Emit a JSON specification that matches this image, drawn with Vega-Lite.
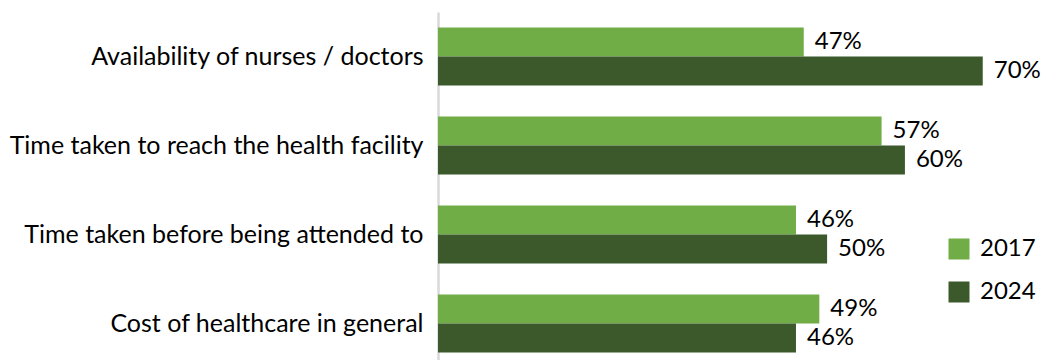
{
  "$schema": "https://vega.github.io/schema/vega-lite/v6.json",
  "autosize": {"type": "none"},
  "padding": {"left": 438, "top": 12, "right": 0, "bottom": 0},
  "width": 607,
  "height": 348,
  "background": "white",
  "config": {"view": {"stroke": null}, "font": "Lato"},
  "data": {"values": [
    {"category": "Availability of nurses / doctors", "year": "2017", "value": 0.47},
    {"category": "Availability of nurses / doctors", "year": "2024", "value": 0.70},
    {"category": "Time taken to reach the health facility", "year": "2017", "value": 0.57},
    {"category": "Time taken to reach the health facility", "year": "2024", "value": 0.60},
    {"category": "Time taken before being attended to", "year": "2017", "value": 0.46},
    {"category": "Time taken before being attended to", "year": "2024", "value": 0.50},
    {"category": "Cost of healthcare in general", "year": "2017", "value": 0.49},
    {"category": "Cost of healthcare in general", "year": "2024", "value": 0.46}
  ]},
  "encoding": {
    "y": {
      "field": "category", "type": "nominal", "sort": null,
      "scale": {"range": [0, 356], "paddingInner": 0.35, "paddingOuter": 0.175},
      "axis": {
        "title": null, "ticks": false, "domainColor": "#d9d9d9", "domainWidth": 2.5,
        "labelFontSize": 25, "labelColor": "#000000", "labelPadding": 15, "labelLimit": 440
      }
    },
    "yOffset": {"field": "year", "type": "nominal", "scale": {"paddingInner": 0}},
    "x": {
      "field": "value", "type": "quantitative",
      "scale": {"domain": [0, 0.78]}, "axis": null
    }
  },
  "layer": [
    {
      "mark": {"type": "bar"},
      "encoding": {
        "color": {
          "field": "year", "type": "nominal",
          "scale": {"domain": ["2017", "2024"], "range": ["#70AD47", "#3B592B"]},
          "legend": {
            "orient": "none", "legendX": 509, "legendY": 225, "title": null,
            "symbolType": "square", "symbolSize": 441, "symbolStrokeWidth": 0,
            "labelFontSize": 24, "labelColor": "#000000", "labelOffset": 9,
            "rowPadding": 19
          }
        }
      }
    },
    {
      "mark": {"type": "text", "align": "left", "baseline": "middle", "dx": 11, "fontSize": 24, "color": "#000000"},
      "encoding": {
        "text": {"field": "value", "type": "quantitative", "format": ".0%"},
        "detail": {"field": "year"}
      }
    }
  ]
}
